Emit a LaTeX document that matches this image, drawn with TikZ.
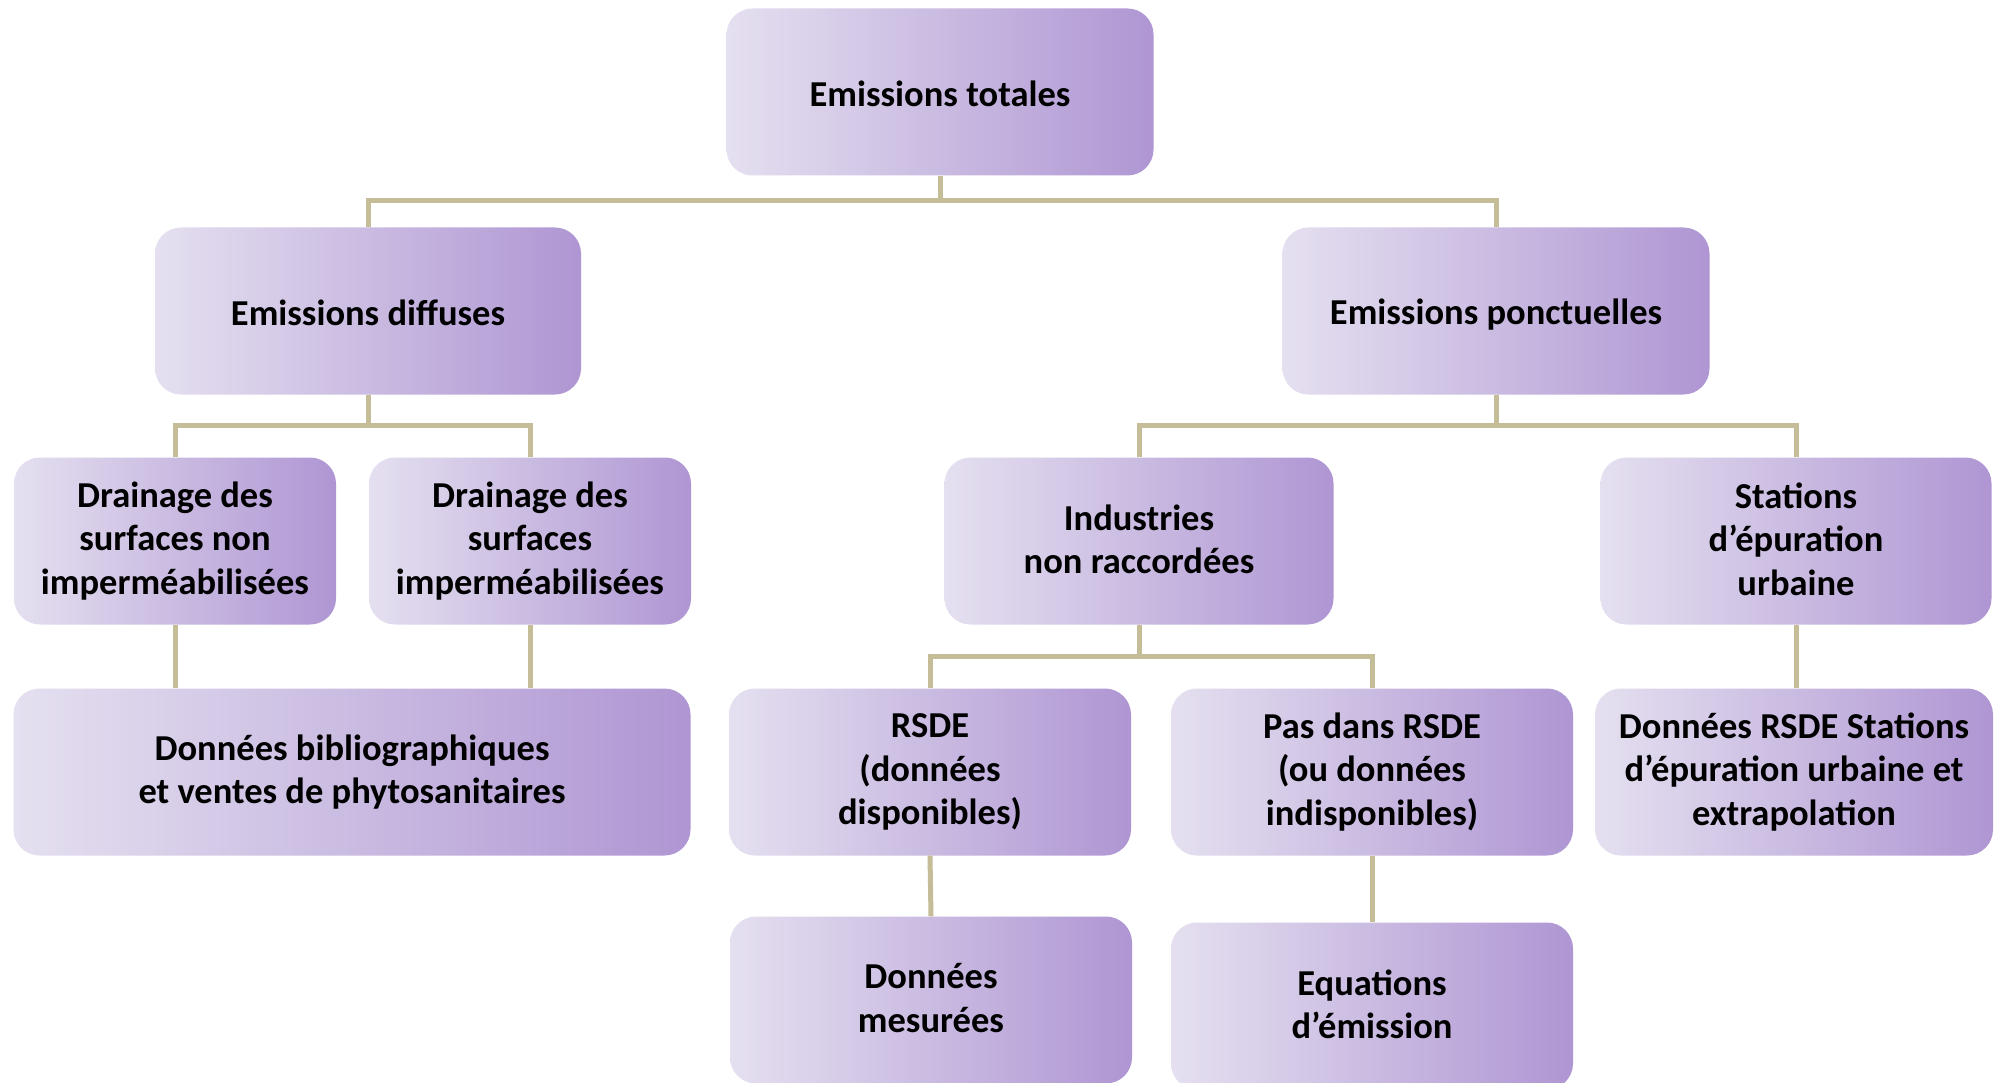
\documentclass[tikz,border=0pt]{standalone}
\usepackage{fontspec}
\setmainfont{Carlito}
\definecolor{boxleft}{RGB}{229,224,240}
\definecolor{boxright}{RGB}{175,150,211}
\definecolor{linktan}{RGB}{196,189,151}
\newcommand\topstrut{\rule{0pt}{33pt}}
\newcommand\bottomstrut{\rule[-4pt]{0pt}{4pt}}
\tikzset{
  stepbox/.style={rounded corners=26pt, left color=boxleft, right color=boxright,
    draw=none, align=center, inner sep=0pt, minimum height=167pt,
    font=\fontsize{36.5}{43.5}\selectfont\bfseries,
    execute at begin node=\topstrut, execute at end node=\bottomstrut},
  link/.style={draw=linktan, line width=5pt}
}
\begin{document}
\begin{tikzpicture}[x=1pt,y=-1pt]
\clip (0,0) rectangle (1995,1083);
\fill[white] (0,0) rectangle (1995,1083);

% level 1
\node[stepbox, minimum width=427pt] (top) at (940,92) {Emissions totales};
% level 2
\node[stepbox, minimum width=426pt] (diff) at (368,311) {Emissions diffuses};
\node[stepbox, minimum width=427pt] (ponc) at (1496,311) {Emissions ponctuelles};
% level 3
\node[stepbox, minimum width=322pt] (dnon) at (175,541) {Drainage des\\surfaces non\\imperméabilisées};
\node[stepbox, minimum width=322pt] (dimp) at (530,541) {Drainage des\\surfaces\\imperméabilisées};
\node[stepbox, minimum width=389pt] (ind) at (1139,541) {Industries\\non raccordées};
\node[stepbox, minimum width=391pt] (step) at (1796,541) {Stations\\d’épuration\\urbaine};
% level 4
\node[stepbox, minimum width=677pt] (biblio) at (352,772) {Données bibliographiques\\et ventes de phytosanitaires};
\node[stepbox, minimum width=402pt] (rsde) at (930,772) {RSDE\\(données\\disponibles)};
\node[stepbox, minimum width=402pt] (nrsde) at (1372,772) {Pas dans RSDE\\(ou données\\indisponibles)};
\node[stepbox, minimum width=398pt] (drsde) at (1794,772) {Données RSDE Stations\\d’épuration urbaine et\\extrapolation};
% level 5
\node[stepbox, minimum width=402pt] (mes) at (931,1000) {Données\\mesurées};
\node[stepbox, minimum width=402pt] (eq) at (1372,1006) {Equations\\d’émission};

% bus junctions
\coordinate (bus1) at (940,201);
\coordinate (bus2) at (368,425);
\coordinate (bus3) at (1496,425);
\coordinate (bus4) at (1139,656);

% connectors
\draw[link] (top.south) -- (bus1);
\draw[link] (bus1) -| (diff.north);
\draw[link] (bus1) -| (ponc.north);
\draw[link] (diff.south) -- (bus2);
\draw[link] (bus2) -| (dnon.north);
\draw[link] (bus2) -| (dimp.north);
\draw[link] (ponc.south) -- (bus3);
\draw[link] (bus3) -| (ind.north);
\draw[link] (bus3) -| (step.north);
\draw[link] (ind.south) -- (bus4);
\draw[link] (bus4) -| (rsde.north);
\draw[link] (bus4) -| (nrsde.north);
\draw[link] (dnon.south) -- (dnon.south |- biblio.north);
\draw[link] (dimp.south) -- (dimp.south |- biblio.north);
\draw[link] (step.south) -- (step.south |- drsde.north);
\draw[link] (rsde.south) -- (mes.north);
\draw[link] (nrsde.south) -- (eq.north);
\end{tikzpicture}
\end{document}
